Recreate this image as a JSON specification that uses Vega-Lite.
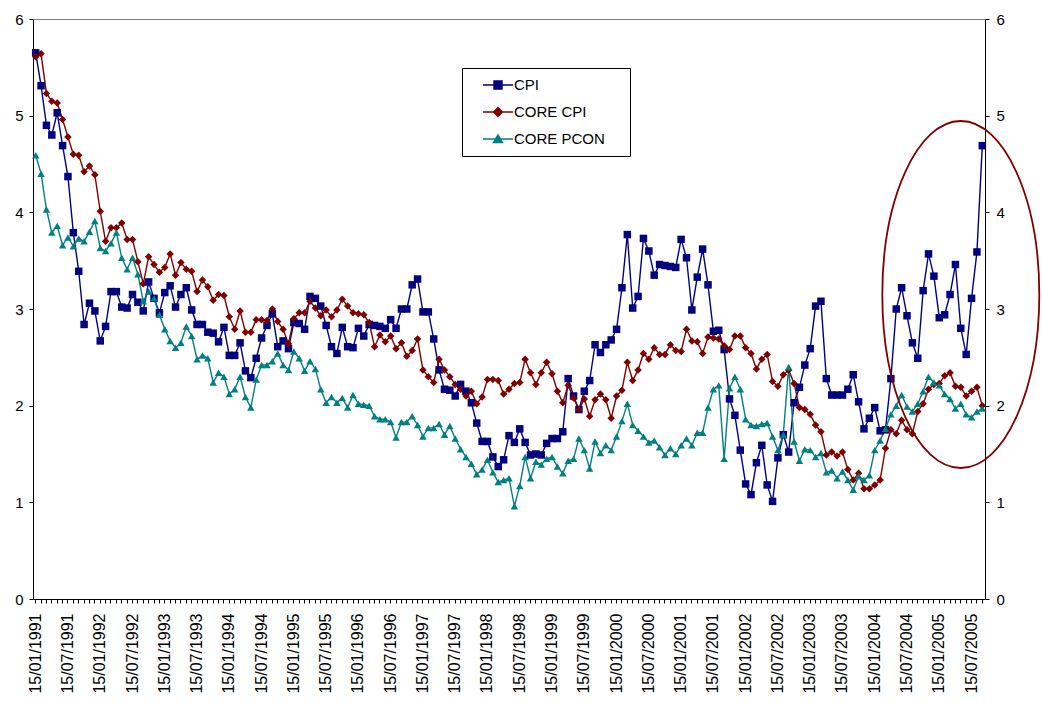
{
  "$schema": "https://vega.github.io/schema/vega-lite/v6.json",
  "width": 952,
  "height": 580,
  "autosize": {"type": "none"},
  "padding": {"left": 33, "top": 19, "right": 57, "bottom": 103},
  "background": "#ffffff",
  "config": {
    "font": "Liberation Sans",
    "view": {"stroke": "#808080", "strokeWidth": 1},
    "axis": {"domainColor": "#000000", "tickColor": "#000000", "labelColor": "#000000", "labelFont": "Liberation Sans", "grid": false, "title": null}
  },
  "datasets": {
    "rates": [
      {"d": "1991-01-15", "CPI": 5.65, "CORE CPI": 5.61, "CORE PCON": 4.59},
      {"d": "1991-02-15", "CPI": 5.31, "CORE CPI": 5.64, "CORE PCON": 4.40},
      {"d": "1991-03-15", "CPI": 4.90, "CORE CPI": 5.23, "CORE PCON": 4.03},
      {"d": "1991-04-15", "CPI": 4.80, "CORE CPI": 5.15, "CORE PCON": 3.79},
      {"d": "1991-05-15", "CPI": 5.03, "CORE CPI": 5.13, "CORE PCON": 3.86},
      {"d": "1991-06-15", "CPI": 4.69, "CORE CPI": 4.96, "CORE PCON": 3.66},
      {"d": "1991-07-15", "CPI": 4.37, "CORE CPI": 4.78, "CORE PCON": 3.74},
      {"d": "1991-08-15", "CPI": 3.79, "CORE CPI": 4.60, "CORE PCON": 3.65},
      {"d": "1991-09-15", "CPI": 3.39, "CORE CPI": 4.59, "CORE PCON": 3.73},
      {"d": "1991-10-15", "CPI": 2.84, "CORE CPI": 4.42, "CORE PCON": 3.70},
      {"d": "1991-11-15", "CPI": 3.06, "CORE CPI": 4.48, "CORE PCON": 3.80},
      {"d": "1991-12-15", "CPI": 2.98, "CORE CPI": 4.39, "CORE PCON": 3.91},
      {"d": "1992-01-15", "CPI": 2.67, "CORE CPI": 4.01, "CORE PCON": 3.63},
      {"d": "1992-02-15", "CPI": 2.82, "CORE CPI": 3.70, "CORE PCON": 3.60},
      {"d": "1992-03-15", "CPI": 3.18, "CORE CPI": 3.84, "CORE PCON": 3.68},
      {"d": "1992-04-15", "CPI": 3.18, "CORE CPI": 3.84, "CORE PCON": 3.79},
      {"d": "1992-05-15", "CPI": 3.02, "CORE CPI": 3.89, "CORE PCON": 3.53},
      {"d": "1992-06-15", "CPI": 3.01, "CORE CPI": 3.72, "CORE PCON": 3.41},
      {"d": "1992-07-15", "CPI": 3.15, "CORE CPI": 3.72, "CORE PCON": 3.53},
      {"d": "1992-08-15", "CPI": 3.07, "CORE CPI": 3.49, "CORE PCON": 3.36},
      {"d": "1992-09-15", "CPI": 2.98, "CORE CPI": 3.26, "CORE PCON": 3.08},
      {"d": "1992-10-15", "CPI": 3.28, "CORE CPI": 3.54, "CORE PCON": 3.18},
      {"d": "1992-11-15", "CPI": 3.11, "CORE CPI": 3.46, "CORE PCON": 3.11},
      {"d": "1992-12-15", "CPI": 2.96, "CORE CPI": 3.38, "CORE PCON": 2.94},
      {"d": "1993-01-15", "CPI": 3.17, "CORE CPI": 3.43, "CORE PCON": 2.79},
      {"d": "1993-02-15", "CPI": 3.24, "CORE CPI": 3.57, "CORE PCON": 2.67},
      {"d": "1993-03-15", "CPI": 3.02, "CORE CPI": 3.35, "CORE PCON": 2.60},
      {"d": "1993-04-15", "CPI": 3.15, "CORE CPI": 3.48, "CORE PCON": 2.65},
      {"d": "1993-05-15", "CPI": 3.22, "CORE CPI": 3.41, "CORE PCON": 2.82},
      {"d": "1993-06-15", "CPI": 2.99, "CORE CPI": 3.39, "CORE PCON": 2.72},
      {"d": "1993-07-15", "CPI": 2.84, "CORE CPI": 3.18, "CORE PCON": 2.48},
      {"d": "1993-08-15", "CPI": 2.84, "CORE CPI": 3.30, "CORE PCON": 2.52},
      {"d": "1993-09-15", "CPI": 2.76, "CORE CPI": 3.23, "CORE PCON": 2.49},
      {"d": "1993-10-15", "CPI": 2.75, "CORE CPI": 3.09, "CORE PCON": 2.24},
      {"d": "1993-11-15", "CPI": 2.66, "CORE CPI": 3.15, "CORE PCON": 2.34},
      {"d": "1993-12-15", "CPI": 2.81, "CORE CPI": 3.14, "CORE PCON": 2.30},
      {"d": "1994-01-15", "CPI": 2.52, "CORE CPI": 2.92, "CORE PCON": 2.12},
      {"d": "1994-02-15", "CPI": 2.52, "CORE CPI": 2.79, "CORE PCON": 2.17},
      {"d": "1994-03-15", "CPI": 2.65, "CORE CPI": 2.98, "CORE PCON": 2.30},
      {"d": "1994-04-15", "CPI": 2.36, "CORE CPI": 2.76, "CORE PCON": 2.09},
      {"d": "1994-05-15", "CPI": 2.29, "CORE CPI": 2.76, "CORE PCON": 1.98},
      {"d": "1994-06-15", "CPI": 2.49, "CORE CPI": 2.89, "CORE PCON": 2.27},
      {"d": "1994-07-15", "CPI": 2.70, "CORE CPI": 2.89, "CORE PCON": 2.42},
      {"d": "1994-08-15", "CPI": 2.83, "CORE CPI": 2.88, "CORE PCON": 2.42},
      {"d": "1994-09-15", "CPI": 2.95, "CORE CPI": 3.00, "CORE PCON": 2.46},
      {"d": "1994-10-15", "CPI": 2.61, "CORE CPI": 2.87, "CORE PCON": 2.54},
      {"d": "1994-11-15", "CPI": 2.67, "CORE CPI": 2.79, "CORE PCON": 2.42},
      {"d": "1994-12-15", "CPI": 2.59, "CORE CPI": 2.64, "CORE PCON": 2.37},
      {"d": "1995-01-15", "CPI": 2.86, "CORE CPI": 2.90, "CORE PCON": 2.56},
      {"d": "1995-02-15", "CPI": 2.85, "CORE CPI": 2.96, "CORE PCON": 2.49},
      {"d": "1995-03-15", "CPI": 2.79, "CORE CPI": 2.96, "CORE PCON": 2.36},
      {"d": "1995-04-15", "CPI": 3.13, "CORE CPI": 3.08, "CORE PCON": 2.46},
      {"d": "1995-05-15", "CPI": 3.11, "CORE CPI": 3.01, "CORE PCON": 2.38},
      {"d": "1995-06-15", "CPI": 3.03, "CORE CPI": 2.93, "CORE PCON": 2.17},
      {"d": "1995-07-15", "CPI": 2.83, "CORE CPI": 2.99, "CORE PCON": 2.03},
      {"d": "1995-08-15", "CPI": 2.61, "CORE CPI": 2.92, "CORE PCON": 2.09},
      {"d": "1995-09-15", "CPI": 2.54, "CORE CPI": 2.99, "CORE PCON": 2.03},
      {"d": "1995-10-15", "CPI": 2.81, "CORE CPI": 3.10, "CORE PCON": 2.08},
      {"d": "1995-11-15", "CPI": 2.61, "CORE CPI": 3.03, "CORE PCON": 1.98},
      {"d": "1995-12-15", "CPI": 2.60, "CORE CPI": 2.96, "CORE PCON": 2.11},
      {"d": "1996-01-15", "CPI": 2.80, "CORE CPI": 2.95, "CORE PCON": 2.02},
      {"d": "1996-02-15", "CPI": 2.72, "CORE CPI": 2.94, "CORE PCON": 2.01},
      {"d": "1996-03-15", "CPI": 2.84, "CORE CPI": 2.86, "CORE PCON": 2.00},
      {"d": "1996-04-15", "CPI": 2.83, "CORE CPI": 2.61, "CORE PCON": 1.89},
      {"d": "1996-05-15", "CPI": 2.82, "CORE CPI": 2.73, "CORE PCON": 1.86},
      {"d": "1996-06-15", "CPI": 2.80, "CORE CPI": 2.66, "CORE PCON": 1.86},
      {"d": "1996-07-15", "CPI": 2.89, "CORE CPI": 2.72, "CORE PCON": 1.83},
      {"d": "1996-08-15", "CPI": 2.80, "CORE CPI": 2.59, "CORE PCON": 1.67},
      {"d": "1996-09-15", "CPI": 3.00, "CORE CPI": 2.65, "CORE PCON": 1.83},
      {"d": "1996-10-15", "CPI": 3.00, "CORE CPI": 2.51, "CORE PCON": 1.83},
      {"d": "1996-11-15", "CPI": 3.25, "CORE CPI": 2.57, "CORE PCON": 1.89},
      {"d": "1996-12-15", "CPI": 3.31, "CORE CPI": 2.69, "CORE PCON": 1.80},
      {"d": "1997-01-15", "CPI": 2.97, "CORE CPI": 2.37, "CORE PCON": 1.68},
      {"d": "1997-02-15", "CPI": 2.97, "CORE CPI": 2.30, "CORE PCON": 1.77},
      {"d": "1997-03-15", "CPI": 2.69, "CORE CPI": 2.24, "CORE PCON": 1.77},
      {"d": "1997-04-15", "CPI": 2.37, "CORE CPI": 2.48, "CORE PCON": 1.81},
      {"d": "1997-05-15", "CPI": 2.17, "CORE CPI": 2.37, "CORE PCON": 1.70},
      {"d": "1997-06-15", "CPI": 2.16, "CORE CPI": 2.30, "CORE PCON": 1.79},
      {"d": "1997-07-15", "CPI": 2.10, "CORE CPI": 2.22, "CORE PCON": 1.66},
      {"d": "1997-08-15", "CPI": 2.22, "CORE CPI": 2.17, "CORE PCON": 1.55},
      {"d": "1997-09-15", "CPI": 2.15, "CORE CPI": 2.10, "CORE PCON": 1.47},
      {"d": "1997-10-15", "CPI": 2.03, "CORE CPI": 2.15, "CORE PCON": 1.40},
      {"d": "1997-11-15", "CPI": 1.82, "CORE CPI": 2.02, "CORE PCON": 1.29},
      {"d": "1997-12-15", "CPI": 1.63, "CORE CPI": 2.09, "CORE PCON": 1.34},
      {"d": "1998-01-15", "CPI": 1.63, "CORE CPI": 2.27, "CORE PCON": 1.44},
      {"d": "1998-02-15", "CPI": 1.47, "CORE CPI": 2.27, "CORE PCON": 1.31},
      {"d": "1998-03-15", "CPI": 1.37, "CORE CPI": 2.26, "CORE PCON": 1.21},
      {"d": "1998-04-15", "CPI": 1.44, "CORE CPI": 2.12, "CORE PCON": 1.23},
      {"d": "1998-05-15", "CPI": 1.69, "CORE CPI": 2.17, "CORE PCON": 1.25},
      {"d": "1998-06-15", "CPI": 1.62, "CORE CPI": 2.23, "CORE PCON": 0.96},
      {"d": "1998-07-15", "CPI": 1.76, "CORE CPI": 2.24, "CORE PCON": 1.17},
      {"d": "1998-08-15", "CPI": 1.62, "CORE CPI": 2.48, "CORE PCON": 1.47},
      {"d": "1998-09-15", "CPI": 1.49, "CORE CPI": 2.34, "CORE PCON": 1.25},
      {"d": "1998-10-15", "CPI": 1.50, "CORE CPI": 2.22, "CORE PCON": 1.42},
      {"d": "1998-11-15", "CPI": 1.49, "CORE CPI": 2.34, "CORE PCON": 1.39},
      {"d": "1998-12-15", "CPI": 1.61, "CORE CPI": 2.45, "CORE PCON": 1.45},
      {"d": "1999-01-15", "CPI": 1.66, "CORE CPI": 2.33, "CORE PCON": 1.47},
      {"d": "1999-02-15", "CPI": 1.66, "CORE CPI": 2.15, "CORE PCON": 1.37},
      {"d": "1999-03-15", "CPI": 1.73, "CORE CPI": 2.03, "CORE PCON": 1.30},
      {"d": "1999-04-15", "CPI": 2.28, "CORE CPI": 2.21, "CORE PCON": 1.43},
      {"d": "1999-05-15", "CPI": 2.10, "CORE CPI": 2.08, "CORE PCON": 1.45},
      {"d": "1999-06-15", "CPI": 1.96, "CORE CPI": 1.96, "CORE PCON": 1.66},
      {"d": "1999-07-15", "CPI": 2.15, "CORE CPI": 2.07, "CORE PCON": 1.54},
      {"d": "1999-08-15", "CPI": 2.26, "CORE CPI": 1.89, "CORE PCON": 1.35},
      {"d": "1999-09-15", "CPI": 2.63, "CORE CPI": 2.06, "CORE PCON": 1.63},
      {"d": "1999-10-15", "CPI": 2.55, "CORE CPI": 2.12, "CORE PCON": 1.51},
      {"d": "1999-11-15", "CPI": 2.63, "CORE CPI": 2.06, "CORE PCON": 1.59},
      {"d": "1999-12-15", "CPI": 2.68, "CORE CPI": 1.87, "CORE PCON": 1.54},
      {"d": "2000-01-15", "CPI": 2.79, "CORE CPI": 2.10, "CORE PCON": 1.68},
      {"d": "2000-02-15", "CPI": 3.22, "CORE CPI": 2.16, "CORE PCON": 1.84},
      {"d": "2000-03-15", "CPI": 3.77, "CORE CPI": 2.45, "CORE PCON": 2.02},
      {"d": "2000-04-15", "CPI": 3.01, "CORE CPI": 2.26, "CORE PCON": 1.80},
      {"d": "2000-05-15", "CPI": 3.13, "CORE CPI": 2.37, "CORE PCON": 1.74},
      {"d": "2000-06-15", "CPI": 3.73, "CORE CPI": 2.54, "CORE PCON": 1.68},
      {"d": "2000-07-15", "CPI": 3.60, "CORE CPI": 2.48, "CORE PCON": 1.62},
      {"d": "2000-08-15", "CPI": 3.35, "CORE CPI": 2.60, "CORE PCON": 1.64},
      {"d": "2000-09-15", "CPI": 3.46, "CORE CPI": 2.53, "CORE PCON": 1.57},
      {"d": "2000-10-15", "CPI": 3.45, "CORE CPI": 2.53, "CORE PCON": 1.49},
      {"d": "2000-11-15", "CPI": 3.44, "CORE CPI": 2.63, "CORE PCON": 1.56},
      {"d": "2000-12-15", "CPI": 3.43, "CORE CPI": 2.57, "CORE PCON": 1.50},
      {"d": "2001-01-15", "CPI": 3.72, "CORE CPI": 2.56, "CORE PCON": 1.59},
      {"d": "2001-02-15", "CPI": 3.53, "CORE CPI": 2.79, "CORE PCON": 1.66},
      {"d": "2001-03-15", "CPI": 2.99, "CORE CPI": 2.67, "CORE PCON": 1.59},
      {"d": "2001-04-15", "CPI": 3.33, "CORE CPI": 2.66, "CORE PCON": 1.72},
      {"d": "2001-05-15", "CPI": 3.62, "CORE CPI": 2.54, "CORE PCON": 1.72},
      {"d": "2001-06-15", "CPI": 3.25, "CORE CPI": 2.71, "CORE PCON": 1.98},
      {"d": "2001-07-15", "CPI": 2.77, "CORE CPI": 2.70, "CORE PCON": 2.17},
      {"d": "2001-08-15", "CPI": 2.78, "CORE CPI": 2.69, "CORE PCON": 2.21},
      {"d": "2001-09-15", "CPI": 2.58, "CORE CPI": 2.62, "CORE PCON": 1.45},
      {"d": "2001-10-15", "CPI": 2.07, "CORE CPI": 2.58, "CORE PCON": 2.18},
      {"d": "2001-11-15", "CPI": 1.90, "CORE CPI": 2.72, "CORE PCON": 2.30},
      {"d": "2001-12-15", "CPI": 1.54, "CORE CPI": 2.72, "CORE PCON": 2.17},
      {"d": "2002-01-15", "CPI": 1.19, "CORE CPI": 2.60, "CORE PCON": 1.86},
      {"d": "2002-02-15", "CPI": 1.08, "CORE CPI": 2.54, "CORE PCON": 1.80},
      {"d": "2002-03-15", "CPI": 1.41, "CORE CPI": 2.38, "CORE PCON": 1.79},
      {"d": "2002-04-15", "CPI": 1.59, "CORE CPI": 2.48, "CORE PCON": 1.81},
      {"d": "2002-05-15", "CPI": 1.18, "CORE CPI": 2.53, "CORE PCON": 1.82},
      {"d": "2002-06-15", "CPI": 1.01, "CORE CPI": 2.25, "CORE PCON": 1.68},
      {"d": "2002-07-15", "CPI": 1.46, "CORE CPI": 2.20, "CORE PCON": 1.54},
      {"d": "2002-08-15", "CPI": 1.70, "CORE CPI": 2.32, "CORE PCON": 1.70},
      {"d": "2002-09-15", "CPI": 1.52, "CORE CPI": 2.37, "CORE PCON": 2.40},
      {"d": "2002-10-15", "CPI": 2.03, "CORE CPI": 2.23, "CORE PCON": 1.63},
      {"d": "2002-11-15", "CPI": 2.19, "CORE CPI": 1.98, "CORE PCON": 1.43},
      {"d": "2002-12-15", "CPI": 2.42, "CORE CPI": 1.96, "CORE PCON": 1.55},
      {"d": "2003-01-15", "CPI": 2.59, "CORE CPI": 1.91, "CORE PCON": 1.54},
      {"d": "2003-02-15", "CPI": 3.03, "CORE CPI": 1.80, "CORE PCON": 1.47},
      {"d": "2003-03-15", "CPI": 3.08, "CORE CPI": 1.73, "CORE PCON": 1.51},
      {"d": "2003-04-15", "CPI": 2.28, "CORE CPI": 1.49, "CORE PCON": 1.31},
      {"d": "2003-05-15", "CPI": 2.11, "CORE CPI": 1.52, "CORE PCON": 1.33},
      {"d": "2003-06-15", "CPI": 2.11, "CORE CPI": 1.48, "CORE PCON": 1.25},
      {"d": "2003-07-15", "CPI": 2.11, "CORE CPI": 1.52, "CORE PCON": 1.32},
      {"d": "2003-08-15", "CPI": 2.17, "CORE CPI": 1.34, "CORE PCON": 1.23},
      {"d": "2003-09-15", "CPI": 2.32, "CORE CPI": 1.23, "CORE PCON": 1.13},
      {"d": "2003-10-15", "CPI": 2.04, "CORE CPI": 1.30, "CORE PCON": 1.27},
      {"d": "2003-11-15", "CPI": 1.76, "CORE CPI": 1.14, "CORE PCON": 1.23},
      {"d": "2003-12-15", "CPI": 1.87, "CORE CPI": 1.14, "CORE PCON": 1.28},
      {"d": "2004-01-15", "CPI": 1.98, "CORE CPI": 1.18, "CORE PCON": 1.54},
      {"d": "2004-02-15", "CPI": 1.74, "CORE CPI": 1.23, "CORE PCON": 1.64},
      {"d": "2004-03-15", "CPI": 1.75, "CORE CPI": 1.56, "CORE PCON": 1.76},
      {"d": "2004-04-15", "CPI": 2.28, "CORE CPI": 1.75, "CORE PCON": 1.91},
      {"d": "2004-05-15", "CPI": 3.00, "CORE CPI": 1.71, "CORE PCON": 2.00},
      {"d": "2004-06-15", "CPI": 3.22, "CORE CPI": 1.85, "CORE PCON": 2.11},
      {"d": "2004-07-15", "CPI": 2.93, "CORE CPI": 1.75, "CORE PCON": 1.99},
      {"d": "2004-08-15", "CPI": 2.65, "CORE CPI": 1.71, "CORE PCON": 1.94},
      {"d": "2004-09-15", "CPI": 2.49, "CORE CPI": 1.94, "CORE PCON": 2.02},
      {"d": "2004-10-15", "CPI": 3.19, "CORE CPI": 2.02, "CORE PCON": 2.15},
      {"d": "2004-11-15", "CPI": 3.57, "CORE CPI": 2.17, "CORE PCON": 2.30},
      {"d": "2004-12-15", "CPI": 3.34, "CORE CPI": 2.22, "CORE PCON": 2.24},
      {"d": "2005-01-15", "CPI": 2.91, "CORE CPI": 2.23, "CORE PCON": 2.21},
      {"d": "2005-02-15", "CPI": 2.94, "CORE CPI": 2.31, "CORE PCON": 2.12},
      {"d": "2005-03-15", "CPI": 3.15, "CORE CPI": 2.34, "CORE PCON": 2.07},
      {"d": "2005-04-15", "CPI": 3.46, "CORE CPI": 2.20, "CORE PCON": 1.97},
      {"d": "2005-05-15", "CPI": 2.80, "CORE CPI": 2.19, "CORE PCON": 2.02},
      {"d": "2005-06-15", "CPI": 2.53, "CORE CPI": 2.10, "CORE PCON": 1.91},
      {"d": "2005-07-15", "CPI": 3.11, "CORE CPI": 2.15, "CORE PCON": 1.88},
      {"d": "2005-08-15", "CPI": 3.59, "CORE CPI": 2.19, "CORE PCON": 1.94},
      {"d": "2005-09-15", "CPI": 4.69, "CORE CPI": 2.00, "CORE PCON": 1.97}
    ],
    "highlight": [
      {"d": "2005-05-15", "value": 3.15}
    ]
  },
  "layer": [
    {
      "data": {"name": "rates"},
      "transform": [{"fold": ["CPI", "CORE CPI", "CORE PCON"], "as": ["series", "value"]}],
      "mark": {"type": "line", "strokeWidth": 1.4},
      "encoding": {
        "x": {
          "field": "d", "type": "ordinal",
          "scale": {"type": "band", "paddingInner": 0, "paddingOuter": 0},
          "axis": {
            "orient": "bottom",
            "labelAngle": 270,
            "labelAlign": "right",
            "labelBaseline": "middle",
            "labelFontSize": 16,
            "labelPadding": 10,
            "labelOverlap": false,
            "tickSize": 4,
            "labelExpr": "(slice(datum.value, 5, 7) == '01' || slice(datum.value, 5, 7) == '07') ? slice(datum.value, 8, 10) + '/' + slice(datum.value, 5, 7) + '/' + slice(datum.value, 0, 4) : ''"
          }
        },
        "y": {
          "field": "value", "type": "quantitative",
          "scale": {"domain": [0, 6], "nice": false},
          "axis": {"orient": "left", "values": [0, 1, 2, 3, 4, 5, 6], "labelFontSize": 15, "tickSize": 4, "labelPadding": 6}
        },
        "color": {
          "field": "series", "type": "nominal",
          "scale": {"domain": ["CPI", "CORE CPI", "CORE PCON"], "range": ["#000080", "#800000", "#008080"]},
          "legend": null
        }
      }
    },
    {
      "data": {"name": "rates"},
      "transform": [{"fold": ["CPI", "CORE CPI", "CORE PCON"], "as": ["series", "value"]}],
      "mark": {"type": "point", "filled": true, "opacity": 1, "size": 56},
      "encoding": {
        "x": {"field": "d", "type": "ordinal"},
        "y": {
          "field": "value", "type": "quantitative",
          "axis": {"orient": "right", "values": [0, 1, 2, 3, 4, 5, 6], "labelFontSize": 15, "tickSize": 4, "labelPadding": 7}
        },
        "color": {"field": "series", "type": "nominal", "legend": null},
        "shape": {
          "field": "series", "type": "nominal",
          "scale": {"domain": ["CPI", "CORE CPI", "CORE PCON"], "range": ["square", "diamond", "triangle-up"]},
          "legend": null
        }
      }
    },
    {
      "data": {"name": "highlight"},
      "mark": {
        "type": "point",
        "shape": "M 0.4524 0 C 0.4524 0.5523 0.2499 1 0 1 C -0.2499 1 -0.4524 0.5523 -0.4524 0 C -0.4524 -0.5523 -0.2499 -1 0 -1 C 0.2499 -1 0.4524 -0.5523 0.4524 0 Z",
        "size": 120409,
        "filled": false,
        "color": "#800000",
        "strokeWidth": 1.8,
        "opacity": 1
      },
      "encoding": {
        "x": {"field": "d", "type": "ordinal"},
        "y": {"field": "value", "type": "quantitative", "axis": null}
      }
    },
    {
      "data": {"values": []},
      "mark": {"type": "point", "filled": true, "size": 196, "strokeWidth": 1.3, "opacity": 1},
      "encoding": {
        "fill": {
          "field": "series", "type": "nominal",
          "scale": {"domain": ["CPI", "CORE CPI", "CORE PCON"], "range": ["#000080", "#800000", "#008080"]},
          "legend": {
            "title": null, "orient": "none", "legendX": 429, "legendY": 49,
            "padding": 9, "rowPadding": 11, "symbolSize": 196, "symbolStrokeWidth": 1.3,
            "symbolOffset": 19, "labelOffset": 8, "labelFont": "Liberation Sans", "labelFontSize": 15,
            "labelColor": "#000000", "labelLimit": 300,
            "strokeColor": "#000000", "fillColor": "#ffffff", "cornerRadius": 0
          }
        },
        "stroke": {
          "field": "series", "type": "nominal",
          "scale": {"domain": ["CPI", "CORE CPI", "CORE PCON"], "range": ["#000080", "#800000", "#008080"]},
          "legend": {
            "title": null, "orient": "none", "legendX": 429, "legendY": 49,
            "padding": 9, "rowPadding": 11, "symbolSize": 196, "symbolStrokeWidth": 1.3,
            "symbolOffset": 19, "labelOffset": 8, "labelFont": "Liberation Sans", "labelFontSize": 15,
            "labelColor": "#000000", "labelLimit": 300,
            "strokeColor": "#000000", "fillColor": "#ffffff", "cornerRadius": 0
          }
        },
        "shape": {
          "field": "series", "type": "nominal",
          "scale": {
            "domain": ["CPI", "CORE CPI", "CORE PCON"],
            "range": [
              "M -2.143 0 L 2.143 0 M -0.58 -0.58 L 0.58 -0.58 L 0.58 0.58 L -0.58 0.58 Z M 17.2 0",
              "M -2.143 0 L 2.143 0 M 0 -0.64 L 0.64 0 L 0 0.64 L -0.64 0 Z M 17.2 0",
              "M -2.143 0 L 2.143 0 M 0 -0.6 L 0.66 0.5 L -0.66 0.5 Z M 17.2 0"
            ]
          },
          "legend": {
            "title": null, "orient": "none", "legendX": 429, "legendY": 49,
            "padding": 9, "rowPadding": 11, "symbolSize": 196, "symbolStrokeWidth": 1.3,
            "symbolOffset": 19, "labelOffset": 8, "labelFont": "Liberation Sans", "labelFontSize": 15,
            "labelColor": "#000000", "labelLimit": 300,
            "strokeColor": "#000000", "fillColor": "#ffffff", "cornerRadius": 0
          }
        }
      }
    }
  ],
  "resolve": {
    "scale": {"shape": "independent", "fill": "independent", "stroke": "independent"},
    "axis": {"y": "independent"}
  }
}
